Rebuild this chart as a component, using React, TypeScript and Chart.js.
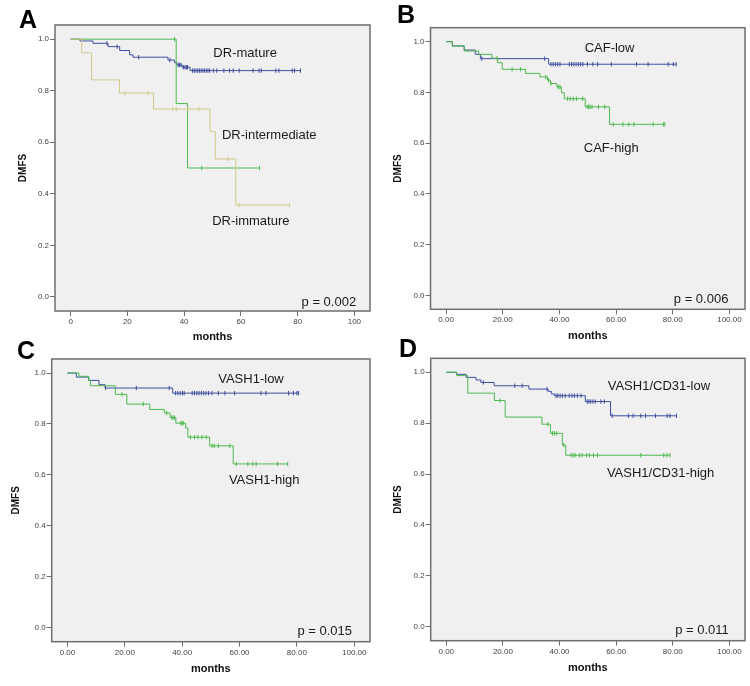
import React, { useEffect, useRef } from "react";
import { Chart, registerables } from "chart.js";
Chart.register(...registerables);

const FONT = '"Liberation Sans", Arial, Helvetica, sans-serif';
const BLUE = "#3E4E9F";
const GREEN = "#4DB84E";
const TAN = "#D0C98C";

// ---- axis ticks ----
const Y_TICKS = [0, 0.2, 0.4, 0.6, 0.8, 1.0];
const Y_TICK_LABELS = ["0.0", "0.2", "0.4", "0.6", "0.8", "1.0"];
const X_TICKS = [0, 20, 40, 60, 80, 100];
const X_TICK_LABELS_A = ["0", "20", "40", "60", "80", "100"];
const X_TICK_LABELS = ["0.00", "20.00", "40.00", "60.00", "80.00", "100.00"];

// ---- Panel A ----
const A_MATURE_T = [3.3, 7.9, 13.2, 17.3, 20.8, 22.0, 34.3, 36.6, 37.4, 39.3, 42.1];
const A_MATURE_S = [0.993, 0.984, 0.971, 0.956, 0.939, 0.93, 0.919, 0.909, 0.9, 0.891, 0.878];
const A_MATURE_C = [12.8, 16.4, 24.0, 35.0, 37.9, 38.4, 38.9, 39.8, 40.3, 40.8, 41.2, 43.0, 43.6, 44.2, 44.8, 45.4, 46.0, 46.6, 47.2, 47.8, 48.4, 49.0, 50.3, 51.5, 54.0, 56.0, 57.3, 59.4, 64.3, 66.4, 67.2, 72.3, 73.4, 78.1, 78.9, 81.0];
const A_INTER_T = [37.2, 41.2];
const A_INTER_S = [0.75, 0.5];
const A_INTER_C = [36.6, 46.2, 66.6];
const A_IMM_T = [3.9, 7.4, 17.2, 29.2, 49.1, 51.0, 58.2];
const A_IMM_S = [0.947, 0.842, 0.791, 0.729, 0.641, 0.535, 0.356];
const A_IMM_C = [19.2, 27.3, 36.0, 37.2, 41.3, 45.2, 55.5, 59.4, 77.2];

// ---- Panel B ----
const B_LOW_T = [2.2, 6.4, 10.3, 12.1, 36.2];
const B_LOW_S = [0.983, 0.967, 0.95, 0.933, 0.911];
const B_LOW_C = [12.6, 34.8, 37.0, 37.8, 38.6, 39.4, 40.2, 43.5, 44.3, 45.1, 45.9, 46.7, 47.5, 48.3, 49.9, 51.8, 53.5, 58.3, 67.2, 71.3, 78.4, 80.2, 81.2];
const B_HIGH_T = [2.2, 6.4, 11.5, 16.2, 18.2, 19.8, 28.1, 33.1, 35.8, 36.8, 39.1, 40.7, 41.7, 49.1, 57.7];
const B_HIGH_S = [0.983, 0.963, 0.95, 0.935, 0.917, 0.891, 0.875, 0.861, 0.848, 0.835, 0.821, 0.799, 0.775, 0.743, 0.674];
const B_HIGH_C = [18.0, 23.3, 26.3, 35.2, 36.2, 37.0, 39.6, 40.2, 42.9, 43.8, 44.9, 46.0, 48.2, 49.8, 50.3, 50.8, 51.5, 53.8, 56.0, 59.0, 62.4, 64.5, 66.3, 73.1, 76.7, 77.2];

// ---- Panel C ----
const C_LOW_T = [3.1, 7.4, 11.0, 13.1, 36.7];
const C_LOW_S = [0.984, 0.971, 0.954, 0.941, 0.921];
const C_LOW_C = [13.3, 24.0, 35.5, 37.7, 38.5, 39.3, 40.1, 40.7, 43.5, 44.3, 45.1, 45.9, 46.7, 47.5, 48.3, 49.2, 50.4, 52.6, 54.9, 58.3, 67.5, 69.2, 77.1, 78.8, 80.0, 80.6];
const C_HIGH_T = [4.0, 7.4, 8.0, 16.7, 20.7, 28.7, 33.8, 35.8, 37.8, 41.2, 42.0, 49.6, 57.8];
const C_HIGH_S = [0.987, 0.971, 0.95, 0.916, 0.878, 0.857, 0.843, 0.825, 0.803, 0.784, 0.748, 0.714, 0.643];
const C_HIGH_C = [19.0, 26.4, 34.6, 36.4, 36.8, 37.3, 39.5, 39.9, 40.4, 42.9, 44.3, 45.5, 46.9, 48.4, 50.4, 51.2, 52.6, 56.6, 58.9, 62.9, 64.6, 65.8, 73.2, 76.8];

// ---- Panel D ----
const D_LOW_T = [3.6, 7.0, 10.5, 12.2, 16.9, 29.2, 36.0, 37.1, 38.2, 49.1, 58.0];
const D_LOW_S = [0.992, 0.98, 0.97, 0.96, 0.947, 0.934, 0.925, 0.915, 0.908, 0.885, 0.829];
const D_LOW_C = [13.1, 24.2, 26.8, 35.6, 38.8, 39.4, 40.2, 41.0, 42.0, 43.4, 44.4, 45.3, 46.3, 47.6, 49.8, 50.4, 51.0, 51.8, 52.6, 54.6, 55.8, 58.6, 64.3, 66.0, 68.7, 70.4, 73.9, 78.0, 79.0, 81.3];
const D_HIGH_T = [3.7, 7.6, 17.0, 20.8, 33.8, 36.8, 41.0, 42.2];
const D_HIGH_S = [0.987, 0.918, 0.889, 0.824, 0.796, 0.76, 0.714, 0.674];
const D_HIGH_C = [18.9, 35.9, 37.5, 38.2, 39.0, 41.5, 44.1, 44.8, 45.5, 47.0, 48.0, 49.5, 50.5, 52.0, 53.4, 68.7, 76.8, 77.9, 79.0];

type Pt = { x: number; y: number };

// Kaplan-Meier points: start at (0,1), one point per event; drawn with stepped 'before'
function kmPoints(times: number[], surv: number[], cens: number[]): Pt[] {
  const pts: Pt[] = [{ x: 0, y: 1 }];
  times.forEach((t, i) => pts.push({ x: t, y: surv[i] }));
  const end = Math.max(...times, ...cens);
  pts.push({ x: end, y: surv[surv.length - 1] });
  return pts;
}

function survAt(times: number[], surv: number[], t: number): number {
  let s = 1;
  times.forEach((tt, i) => {
    if (tt <= t) s = surv[i];
  });
  return s;
}

function censorPoints(times: number[], surv: number[], cens: number[]): Pt[] {
  return cens.map((c) => ({ x: c, y: survAt(times, surv, c) }));
}

type Series = { t: number[]; s: number[]; c: number[]; color: string };
type Note = { text: string; x: number; y: number };
type PanelCfg = {
  letter: string;
  letterPos: { left: number; top: number };
  left: number;
  top: number;
  w: number;
  h: number;
  area: { l: number; t: number; r: number; b: number };
  monthsY: number;
  dmfsX: number;
  xLabels: string[];
  series: Series[];
  notes: Note[];
};

const PANELS: PanelCfg[] = [
  {
    letter: "A",
    letterPos: { left: 19, top: 7 },
    left: 0, top: 0, w: 375, h: 343,
    area: { l: 55, t: 25, r: 372, b: 311 },
    monthsY: 337, dmfsX: 23,
    xLabels: X_TICK_LABELS_A,
    series: [
      { t: A_IMM_T, s: A_IMM_S, c: A_IMM_C, color: TAN },
      { t: A_INTER_T, s: A_INTER_S, c: A_INTER_C, color: GREEN },
      { t: A_MATURE_T, s: A_MATURE_S, c: A_MATURE_C, color: BLUE },
    ],
    notes: [
      { text: "DR-mature", x: 61.5, y: 0.946 },
      { text: "DR-intermediate", x: 70, y: 0.628 },
      { text: "DR-immature", x: 63.5, y: 0.294 },
      { text: "p = 0.002", x: 91, y: -0.023 },
    ],
  },
  {
    letter: "B",
    letterPos: { left: 397, top: 2 },
    left: 375, top: 0, w: 375, h: 343,
    area: { l: 55.5, t: 27.7, r: 370, b: 309.3 },
    monthsY: 336, dmfsX: 23,
    xLabels: X_TICK_LABELS,
    series: [
      { t: B_HIGH_T, s: B_HIGH_S, c: B_HIGH_C, color: GREEN },
      { t: B_LOW_T, s: B_LOW_S, c: B_LOW_C, color: BLUE },
    ],
    notes: [
      { text: "CAF-low", x: 57.7, y: 0.972 },
      { text: "CAF-high", x: 58.3, y: 0.578 },
      { text: "p = 0.006", x: 90, y: -0.016 },
    ],
  },
  {
    letter: "C",
    letterPos: { left: 17, top: 338 },
    left: 0, top: 343, w: 375, h: 343,
    area: { l: 51.7, t: 16, r: 374.5, b: 298.7 },
    monthsY: 326, dmfsX: 16,
    xLabels: X_TICK_LABELS,
    series: [
      { t: C_HIGH_T, s: C_HIGH_S, c: C_HIGH_C, color: GREEN },
      { t: C_LOW_T, s: C_LOW_S, c: C_LOW_C, color: BLUE },
    ],
    notes: [
      { text: "VASH1-low", x: 64, y: 0.974 },
      { text: "VASH1-high", x: 68.6, y: 0.578 },
      { text: "p = 0.015", x: 89.7, y: -0.016 },
    ],
  },
  {
    letter: "D",
    letterPos: { left: 399, top: 336 },
    left: 375, top: 343, w: 375, h: 343,
    area: { l: 55.7, t: 15.3, r: 370.7, b: 297.7 },
    monthsY: 325.3, dmfsX: 23,
    xLabels: X_TICK_LABELS,
    series: [
      { t: D_HIGH_T, s: D_HIGH_S, c: D_HIGH_C, color: GREEN },
      { t: D_LOW_T, s: D_LOW_S, c: D_LOW_C, color: BLUE },
    ],
    notes: [
      { text: "VASH1/CD31-low", x: 75.1, y: 0.945 },
      { text: "VASH1/CD31-high", x: 75.7, y: 0.602 },
      { text: "p = 0.011", x: 90.3, y: -0.013 },
    ],
  },
];

const MONTHS_SIZE = 11;
const DMFS_SIZE = 10;

function Panel({ cfg }: { cfg: PanelCfg }) {
  const ref = useRef<HTMLCanvasElement | null>(null);
  useEffect(() => {
    const canvas = ref.current;
    if (!canvas) return;
    const padL = cfg.dmfsX - (DMFS_SIZE * 1.2) / 2;
    const padB = cfg.h - cfg.monthsY - (MONTHS_SIZE * 1.2) / 2;
    const yWidth = cfg.area.l - padL;
    const xHeight = cfg.h - padB - cfg.area.b;

    const datasets: any[] = [];
    cfg.series.forEach((s) => {
      datasets.push({
        type: "line",
        data: kmPoints(s.t, s.s, s.c),
        borderColor: s.color,
        backgroundColor: s.color,
        borderWidth: 1,
        pointRadius: 0,
        stepped: "before",
        fill: false,
      });
      datasets.push({
        type: "scatter",
        data: censorPoints(s.t, s.s, s.c),
        borderColor: s.color,
        backgroundColor: s.color,
        pointStyle: "line",
        rotation: 90,
        pointRadius: 2.2,
        pointBorderWidth: 1,
        showLine: false,
      });
    });

    const boxPlugin = {
      id: "box",
      beforeDraw(chart: any) {
        const { ctx, chartArea: a } = chart;
        ctx.save();
        ctx.fillStyle = "#F0F0F0";
        ctx.fillRect(a.left, a.top, a.right - a.left, a.bottom - a.top);
        ctx.restore();
      },
      afterDraw(chart: any) {
        const { ctx, chartArea: a, scales } = chart;
        ctx.save();
        ctx.strokeStyle = "#6E6E6E";
        ctx.lineWidth = 1.5;
        ctx.strokeRect(a.left, a.top, a.right - a.left, a.bottom - a.top);
        ctx.fillStyle = "#1A1A1A";
        ctx.font = `13px ${FONT}`;
        ctx.textAlign = "center";
        ctx.textBaseline = "middle";
        cfg.notes.forEach((n) => {
          ctx.fillText(n.text, scales.x.getPixelForValue(n.x), scales.y.getPixelForValue(n.y));
        });
        ctx.restore();
      },
    };

    const chart = new Chart(canvas, {
      type: "line",
      data: { datasets },
      options: {
        animation: false,
        responsive: false,
        devicePixelRatio: 1,
        layout: {
          padding: { left: padL, right: cfg.w - cfg.area.r, top: cfg.area.t, bottom: padB },
        },
        plugins: {
          legend: { display: false },
          tooltip: { enabled: false },
        },
        scales: {
          x: {
            type: "linear",
            min: -5.5,
            max: 105.5,
            afterBuildTicks: (scale: any) => {
              scale.ticks = X_TICKS.map((v) => ({ value: v }));
            },
            afterFit: (scale: any) => {
              scale.height = xHeight;
              scale.paddingLeft = 0;
              scale.paddingRight = 0;
            },
            grid: { drawOnChartArea: false, drawTicks: true, tickLength: 5, color: "#6E6E6E" },
            border: { display: false },
            ticks: {
              autoSkip: false,
              maxRotation: 0,
              padding: 1,
              color: "#444",
              font: { family: FONT, size: 8 },
              callback: (v: any) => {
                const i = X_TICKS.indexOf(Number(v));
                return i >= 0 ? cfg.xLabels[i] : "";
              },
            },
            title: {
              display: true,
              text: "months",
              padding: 0,
              color: "#111",
              font: { family: FONT, size: MONTHS_SIZE, weight: "bold", lineHeight: 1.2 },
            },
          },
          y: {
            type: "linear",
            min: -0.055,
            max: 1.055,
            afterBuildTicks: (scale: any) => {
              scale.ticks = Y_TICKS.map((v) => ({ value: v }));
            },
            afterFit: (scale: any) => {
              scale.width = yWidth;
              scale.paddingTop = 0;
              scale.paddingBottom = 0;
            },
            grid: { drawOnChartArea: false, drawTicks: true, tickLength: 5, color: "#6E6E6E" },
            border: { display: false },
            ticks: {
              autoSkip: false,
              padding: 1,
              color: "#444",
              font: { family: FONT, size: 8 },
              callback: (v: any) => {
                const i = Y_TICKS.findIndex((t) => Math.abs(t - Number(v)) < 1e-6);
                return i >= 0 ? Y_TICK_LABELS[i] : "";
              },
            },
            title: {
              display: true,
              text: "DMFS",
              padding: 0,
              color: "#111",
              font: { family: FONT, size: DMFS_SIZE, weight: "bold", lineHeight: 1.2 },
            },
          },
        },
      } as any,
      plugins: [boxPlugin],
    });
    return () => chart.destroy();
  }, [cfg]);

  return (
    <canvas
      ref={ref}
      width={cfg.w}
      height={cfg.h}
      style={{ position: "absolute", left: cfg.left, top: cfg.top, width: cfg.w, height: cfg.h }}
    />
  );
}

export default function App() {
  return (
    <div style={{ position: "absolute", left: 0, top: 0, width: 750, height: 686, background: "#fff", overflow: "hidden" }}>
      {PANELS.map((p) => (
        <Panel key={p.letter} cfg={p} />
      ))}
      {PANELS.map((p) => (
        <div
          key={"l" + p.letter}
          style={{
            position: "absolute",
            left: p.letterPos.left,
            top: p.letterPos.top,
            fontFamily: FONT,
            fontWeight: "bold",
            fontSize: 25,
            lineHeight: "25px",
            color: "#000",
          }}
        >
          {p.letter}
        </div>
      ))}
    </div>
  );
}
